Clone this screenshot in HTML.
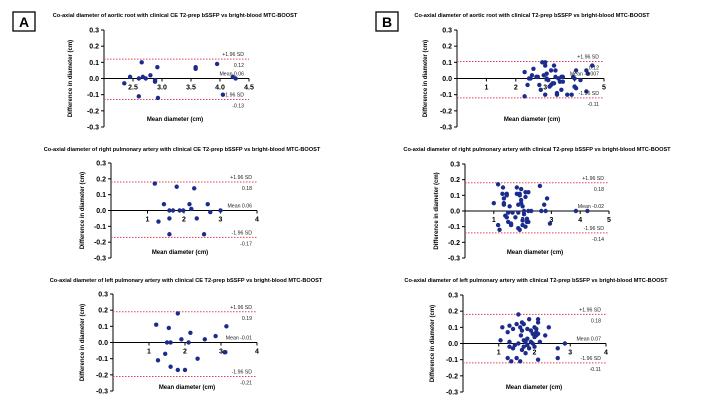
<!DOCTYPE html>
<html><head><meta charset="utf-8">
<style>
html,body{margin:0;padding:0;background:#fff;}
svg{display:block;font-family:"Liberation Sans",Arial,sans-serif;}
</style></head>
<body>
<svg id="fig" width="720" height="405" viewBox="0 0 720 405">
<rect x="13" y="12" width="22" height="19" fill="none" stroke="#000" stroke-width="1.3"/>
<text x="24" y="27" font-size="14" font-weight="bold" text-anchor="middle">A</text>
<rect x="376" y="12" width="22" height="19" fill="none" stroke="#000" stroke-width="1.3"/>
<text x="387" y="27" font-size="14" font-weight="bold" text-anchor="middle">B</text>
</svg>
<script>
// ---- data ----
const yTickValues = [0.3, 0.2, 0.1, 0.0, -0.1, -0.2, -0.3];
const yTickLabels = ["0.3", "0.2", "0.1", "0.0", "-0.1", "-0.2", "-0.3"];

const a1Mean = [2.35,2.45,2.6,2.6,2.65,2.67,2.72,2.8,2.88,2.88,2.92,2.93,3.58,3.58,3.95,4.05,4.22,4.27];
const a1Diff = [-0.03,0.01,-0.11,0,0.1,0.01,0,0.02,-0.02,-0.01,0.07,-0.12,0.06,0.07,0.09,-0.1,0.01,0];
const a1XTicks = [2.5,3.0,3.5,4.0,4.5];
const a1XLabels = ["2.5","3.0","3.5","4.0","4.5"];
const a1Limits = [0.12,-0.13];
const a1LimitLabels = ["+1.96 SD","0.12","Mean 0.06","-1.96 SD","-0.13"];

const b1Mean = [2.3,2.3,2.4,2.45,2.5,2.55,2.6,2.7,2.8,2.85,2.9,2.95,3.0,3.0,3.0,3.05,3.05,3.1,3.15,3.2,3.25,3.3,3.3,3.35,3.4,3.4,3.45,3.5,3.55,3.55,3.6,3.6,3.75,3.9,3.95,4.0,4.05,4.05,4.0,4.2,4.4,4.45,4.4,4.6,3.35,2.75,3.2];
const b1Diff = [-0.11,0.04,-0.04,0,0,0.02,0.06,0.01,-0.04,-0.07,0.1,0.02,0.1,-0.1,0.08,0.03,0,-0.01,-0.05,0.05,-0.03,0.08,-0.03,0.01,-0.09,-0.1,0,-0.02,-0.07,0.01,-0.02,0.01,-0.1,-0.1,0.01,-0.05,0.05,-0.06,0,-0.01,0.05,0.03,-0.08,0.08,0.05,0.01,-0.04];
const b1XTicks = [1,2,3,4,5];
const b1XLabels = ["1","2","3","4","5"];
const b1Limits = [0.105,-0.12];
const b1LimitLabels = ["+1.96 SD","0.12","Mean -0.007","-1.96 SD","-0.11"];

const a2Mean = [1.2,1.3,1.45,1.6,1.6,1.6,1.7,1.8,1.88,1.98,2.15,2.2,2.28,2.35,2.55,2.65,2.72,3.0];
const a2Diff = [0.17,-0.07,0.04,0,-0.05,-0.15,0,0.15,0,0,0.04,0.01,0.14,-0.05,-0.15,0.04,-0.01,0];
const a2XTicks = [1,2,3,4];
const a2XLabels = ["1","2","3","4"];
const a2Limits = [0.18,-0.17];
const a2LimitLabels = ["+1.96 SD","0.18","Mean 0.06","-1.96 SD","-0.17"];

const b2Mean = [1.0,1.15,1.15,1.2,1.3,1.32,1.35,1.35,1.35,1.4,1.45,1.45,1.45,1.5,1.5,1.55,1.6,1.6,1.65,1.75,1.8,1.8,1.85,1.85,1.85,1.9,1.9,1.9,1.95,1.95,1.95,2.0,2.0,2.0,2.05,2.05,2.1,2.1,2.1,2.15,2.2,2.2,2.2,2.3,2.15,2.6,2.65,2.75,2.8,2.85,2.95,3.85,4.25];
const b2Diff = [0.05,0.17,-0.09,-0.12,0.11,0.15,0.08,0.05,0.04,-0.03,0.11,0.1,-0.04,-0.01,-0.07,0.03,-0.09,-0.08,-0.01,-0.04,0.15,0.11,0.04,-0.11,-0.01,0.11,0.1,-0.12,0.14,0.07,0.05,0.03,-0.06,-0.09,0,-0.02,0.12,0.09,-0.1,-0.07,0,-0.07,0.12,0,-0.05,0.16,0,0.04,0,0.08,-0.08,0,0];
const b2XTicks = [1,2,3,4,5];
const b2XLabels = ["1","2","3","4","5"];
const b2Limits = [0.18,-0.14];
const b2LimitLabels = ["+1.96 SD","0.18","Mean -0.02","-1.96 SD","-0.14"];

const a3Mean = [1.2,1.25,1.45,1.5,1.55,1.6,1.6,1.8,1.8,1.9,2.0,2.1,2.15,2.35,2.55,2.85,3.1,3.12,3.15];
const a3Diff = [0.11,-0.11,-0.07,0,0.09,0,-0.15,0.18,-0.17,0.02,-0.17,0,0.06,-0.1,0.02,0.04,-0.06,-0.06,0.1];
const a3XTicks = [1,2,3,4];
const a3XLabels = ["1","2","3","4"];
const a3Limits = [0.19,-0.21];
const a3LimitLabels = ["+1.96 SD","0.19","Mean -0.01","-1.96 SD","-0.21"];

const b3Mean = [1.05,1.1,1.25,1.25,1.3,1.3,1.3,1.35,1.4,1.4,1.45,1.5,1.5,1.55,1.55,1.6,1.6,1.62,1.65,1.65,1.65,1.7,1.7,1.7,1.75,1.8,1.8,1.8,1.85,1.85,1.9,1.9,1.95,1.95,2.0,2.0,2.0,2.05,2.05,2.05,2.1,2.1,2.1,2.1,2.15,2.3,2.4,2.65,2.65,2.85,1.75];
const b3Diff = [0.02,0.1,-0.09,0.07,0.11,0.01,-0.02,-0.11,-0.03,0.09,-0.01,0.12,-0.09,0.18,0,0.1,-0.11,0.05,0.13,0.08,-0.04,0.12,0.02,-0.02,-0.06,0.09,0.03,-0.01,0.15,-0.03,0.08,0.01,0.06,0,0.1,0.04,-0.02,0.07,0.09,0.05,0.15,0.13,0.06,-0.1,0.01,0.05,0.1,-0.03,-0.09,0,0.01];
const b3XTicks = [1,2,3,4];
const b3XLabels = ["1","2","3","4"];
const b3Limits = [0.18,-0.12];
const b3LimitLabels = ["+1.96 SD","0.18","Mean 0.07","-1.96 SD","-0.11"];

// ---- layout (not data) ----
const panels = [
 {id:"a1", title:"Co-axial diameter of aortic root with clinical CE T2-prep bSSFP vs bright-blood MTC-BOOST",
  tx:175, ty:17, ax:104, xr:249, yTop:30, yBot:127, xMin:2.0, xMax:4.5, ylx:72, xly:121, xlc:175,
  xs:a1Mean, ys:a1Diff, xt:a1XTicks, xl:a1XLabels, lim:a1Limits, ll:a1LimitLabels},
 {id:"b1", title:"Co-axial diameter of aortic root with clinical T2-prep bSSFP vs bright-blood MTC-BOOST",
  tx:532, ty:17, ax:457, xr:604, yTop:30, yBot:127, xMin:0, xMax:5, ylx:427, xly:121, xlc:532,
  xs:b1Mean, ys:b1Diff, xt:b1XTicks, xl:b1XLabels, lim:b1Limits, ll:b1LimitLabels},
 {id:"a2", title:"Co-axial diameter of right pulmonary artery with clinical CE T2-prep bSSFP vs bright-blood MTC-BOOST",
  tx:182, ty:151, ax:111, xr:257, yTop:163, yBot:258, xMin:0, xMax:4, ylx:84, xly:254, xlc:180,
  xs:a2Mean, ys:a2Diff, xt:a2XTicks, xl:a2XLabels, lim:a2Limits, ll:a2LimitLabels},
 {id:"b2", title:"Co-axial diameter of right pulmonary artery with clinical T2-prep bSSFP vs bright-blood MTC-BOOST",
  tx:537, ty:151, ax:465, xr:609, yTop:164, yBot:258, xMin:0, xMax:5, ylx:438, xly:254, xlc:535,
  xs:b2Mean, ys:b2Diff, xt:b2XTicks, xl:b2XLabels, lim:b2Limits, ll:b2LimitLabels},
 {id:"a3", title:"Co-axial diameter of left  pulmonary artery with clinical CE T2-prep bSSFP vs bright-blood MTC-BOOST",
  tx:186, ty:282, ax:113, xr:257, yTop:294, yBot:391, xMin:0, xMax:4, ylx:84, xly:389, xlc:187,
  xs:a3Mean, ys:a3Diff, xt:a3XTicks, xl:a3XLabels, lim:a3Limits, ll:a3LimitLabels},
 {id:"b3", title:"Co-axial diameter of left pulmonary artery with clinical T2-prep bSSFP vs bright-blood MTC-BOOST",
  tx:536, ty:282, ax:463, xr:606, yTop:295, yBot:392, xMin:0, xMax:4, ylx:434, xly:389, xlc:534,
  xs:b3Mean, ys:b3Diff, xt:b3XTicks, xl:b3XLabels, lim:b3Limits, ll:b3LimitLabels}
];

const NS = "http://www.w3.org/2000/svg";
const svg = document.getElementById("fig");
function mk(tag, attrs, parent, txt){
  const e = document.createElementNS(NS, tag);
  for (const k in attrs) e.setAttribute(k, attrs[k]);
  if (txt !== undefined) e.textContent = txt;
  (parent || svg).appendChild(e);
  return e;
}

panels.forEach(p => {
  const g = mk("g", {});
  
  
  const yS = v => p.yTop + (0.3 - v) / 0.6 * (p.yBot - p.yTop);
  const xS = v => p.ax + (v - p.xMin) / (p.xMax - p.xMin) * (p.xr - p.ax);

  const t = mk("text", {x:p.tx, y:p.ty, "font-size":"5.6", "font-weight":"bold", "text-anchor":"middle"}, g, p.title);
  
  

  // y axis
  const ya = mk("line", {x1:p.ax, x2:p.ax, y1:p.yTop, y2:p.yBot, stroke:"#000", "stroke-width":"1"}, g);
  
  
  yTickValues.forEach((v, i) => {
    const y = yS(v);
    const tk = mk("line", {x1:p.ax - 3, x2:p.ax, y1:y, y2:y, stroke:"#000", "stroke-width":"1"}, g);
    
    
    const tl = mk("text", {x:p.ax - 5, y:y + 2.5, "font-size":"7", "font-weight":"bold", "text-anchor":"end"}, g, yTickLabels[i]);
    
    
  });
  const yl = mk("text", {x:0, y:0, "font-size":"6", "font-weight":"bold", "text-anchor":"middle",
     transform:`translate(${p.ylx},${(p.yTop + p.yBot) / 2}) rotate(-90)`}, g, "Difference in diameter (cm)");
  
  

  // limit lines
  p.lim.forEach((v, i) => {
    const l = mk("line", {x1:p.ax, x2:p.xr, y1:yS(v), y2:yS(v), stroke:"#e0405a", "stroke-width":"1", "stroke-dasharray":"1.5,1.5"}, g);
    
    
  });

  // x axis at zero
  const y0 = yS(0);
  const xa = mk("line", {x1:p.ax, x2:p.xr, y1:y0, y2:y0, stroke:"#000", "stroke-width":"1"}, g);
  
  
  p.xt.forEach((v, i) => {
    const x = xS(v);
    const tk = mk("line", {x1:x, x2:x, y1:y0, y2:y0 + 3, stroke:"#000", "stroke-width":"1"}, g);
    
    
    const tl = mk("text", {x:x, y:y0 + 11, "font-size":"7", "font-weight":"bold", "text-anchor":"middle"}, g, p.xl[i]);
    
    
  });
  const xl = mk("text", {x:p.xlc, y:p.xly, "font-size":"6", "font-weight":"bold", "text-anchor":"middle"}, g, "Mean diameter (cm)");
  
  

  // points
  p.xs.forEach((v, i) => {
    const c = mk("circle", {cx:xS(v), cy:yS(p.ys[i]), r:"2.2", fill:"#1b2c8c"}, g);
    
    
  });

  // limit labels
  const rx = p.xr - 5;
  const up = yS(p.lim[0]), lo = yS(p.lim[1]);
  const pos = [up - 3, up + 8, y0 - 3, lo - 3, lo + 8];
  const names = ['upper-limit-label','upper-limit-value','mean-label','lower-limit-label','lower-limit-value'];
  p.ll.forEach((s, i) => {
    const tl = mk("text", {x:rx, y:pos[i], "font-size":"5.2", "text-anchor":"end", fill:"#222"}, g, s);
    
    
  });
});
</script>
</body></html>
